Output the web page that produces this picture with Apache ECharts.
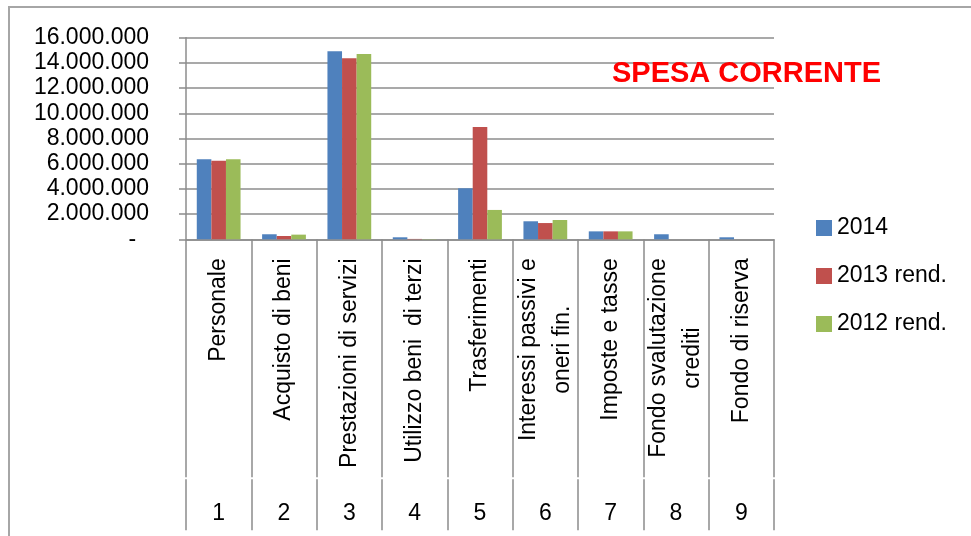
<!DOCTYPE html>
<html>
<head>
<meta charset="utf-8">
<script src="https://cdn.jsdelivr.net/npm/echarts@6/dist/echarts.min.js"></script>
<style>
html,body{margin:0;padding:0;background:#fff;}
#c{width:971px;height:536px;}
</style>
</head>
<body>
<div id="c"></div>
<script>
var categories = ['Personale', 'Acquisto di beni', 'Prestazioni di servizi', 'Utilizzo beni  di terzi', 'Trasferimenti', 'Interessi passivi e\noneri fin.', 'Imposte e tasse', 'Fondo svalutazione\ncrediti', 'Fondo di riserva'];
var categoryNumbers = ['1', '2', '3', '4', '5', '6', '7', '8', '9'];
var seriesNames = ['2014', '2013 rend.', '2012 rend.'];
var values2014 = [6350000, 400000, 14920000, 160000, 4050000, 1430000, 630000, 400000, 160000];
var values2013 = [6240000, 260000, 14360000, 30000, 8910000, 1290000, 630000, 0, 0];
var values2012 = [6350000, 370000, 14710000, 20000, 2330000, 1530000, 630000, 0, 0];
var yTicks = { min: 0, max: 16000000, interval: 2000000 };
var titleText = 'SPESA CORRENTE';

var FONT = '"Liberation Sans", Arial, sans-serif';
var GRID = '#8c8c8c';
var colors = ['#4f81bd', '#c0504d', '#9bbb59'];

function fmtNum(v) {
  if (v === 0) return '-  ';
  return String(Math.round(v)).replace(/\B(?=(\d{3})+(?!\d))/g, '.');
}

var chart = echarts.init(document.getElementById('c'), null, { renderer: 'canvas' });
var allValues = [values2014, values2013, values2012];

chart.setOption({
  backgroundColor: '#ffffff',
  animation: false,
  color: colors,
  title: {
    text: titleText,
    left: 612,
    top: 59,
    padding: 0,
    textStyle: { color: '#ff0000', fontSize: 29, fontWeight: 'bold', fontFamily: FONT }
  },
  legend: {
    orient: 'vertical',
    left: 816,
    top: 216,
    itemWidth: 16,
    itemHeight: 16,
    itemGap: 24,
    icon: 'rect',
    padding: 0,
    data: seriesNames,
    textStyle: { color: '#000', fontSize: 23, lineHeight: 24, fontFamily: FONT }
  },
  graphic: [{
    type: 'rect',
    z: -10,
    shape: { x: 9, y: 7, width: 1000, height: 600 },
    style: { fill: 'none', stroke: '#a6a6a6', lineWidth: 2 }
  }],
  grid: { left: 186, right: 197, top: 37.7, bottom: 296.7, containLabel: false },
  xAxis: [{
    type: 'category',
    data: categories,
    position: 'bottom',
    axisLine: { show: true, lineStyle: { color: GRID, width: 1.5 } },
    axisTick: { show: true, length: 238, interval: 0, lineStyle: { color: GRID, width: 1.5 } },
    axisLabel: {
      interval: 0,
      rotate: 90,
      margin: 19,
      color: '#000',
      fontSize: 23,
      lineHeight: 34,
      fontFamily: FONT,
      formatter: function (v) {
        if (v.indexOf('\n') < 0) return v;
        return v.split('\n').map(function (s) { return '{c|' + s + '}'; }).join('\n');
      },
      rich: { c: { align: 'center', fontSize: 23, lineHeight: 34, fontFamily: FONT, color: '#000' } }
    }
  }, {
    type: 'category',
    data: categoryNumbers,
    position: 'bottom',
    offset: 240,
    axisLine: { show: false },
    axisTick: { show: true, length: 51, interval: 0, lineStyle: { color: GRID, width: 1.5 } },
    axisLabel: { interval: 0, margin: 23, color: '#000', fontSize: 23, fontFamily: FONT }
  }],
  yAxis: {
    type: 'value',
    min: yTicks.min,
    max: yTicks.max,
    interval: yTicks.interval,
    axisLine: { show: true, lineStyle: { color: GRID, width: 1.5 } },
    axisTick: { show: true, length: 7, lineStyle: { color: GRID, width: 1.5 } },
    splitLine: { show: true, lineStyle: { color: GRID, width: 1.5 } },
    axisLabel: { margin: 37, color: '#000', fontSize: 23, fontFamily: FONT, formatter: fmtNum }
  },
  series: seriesNames.map(function (n, i) {
    return {
      name: n,
      type: 'bar',
      xAxisIndex: 0,
      data: allValues[i],
      barGap: '0%',
      barCategoryGap: '33%',
      itemStyle: { color: colors[i] }
    };
  })
});
</script>
</body>
</html>
